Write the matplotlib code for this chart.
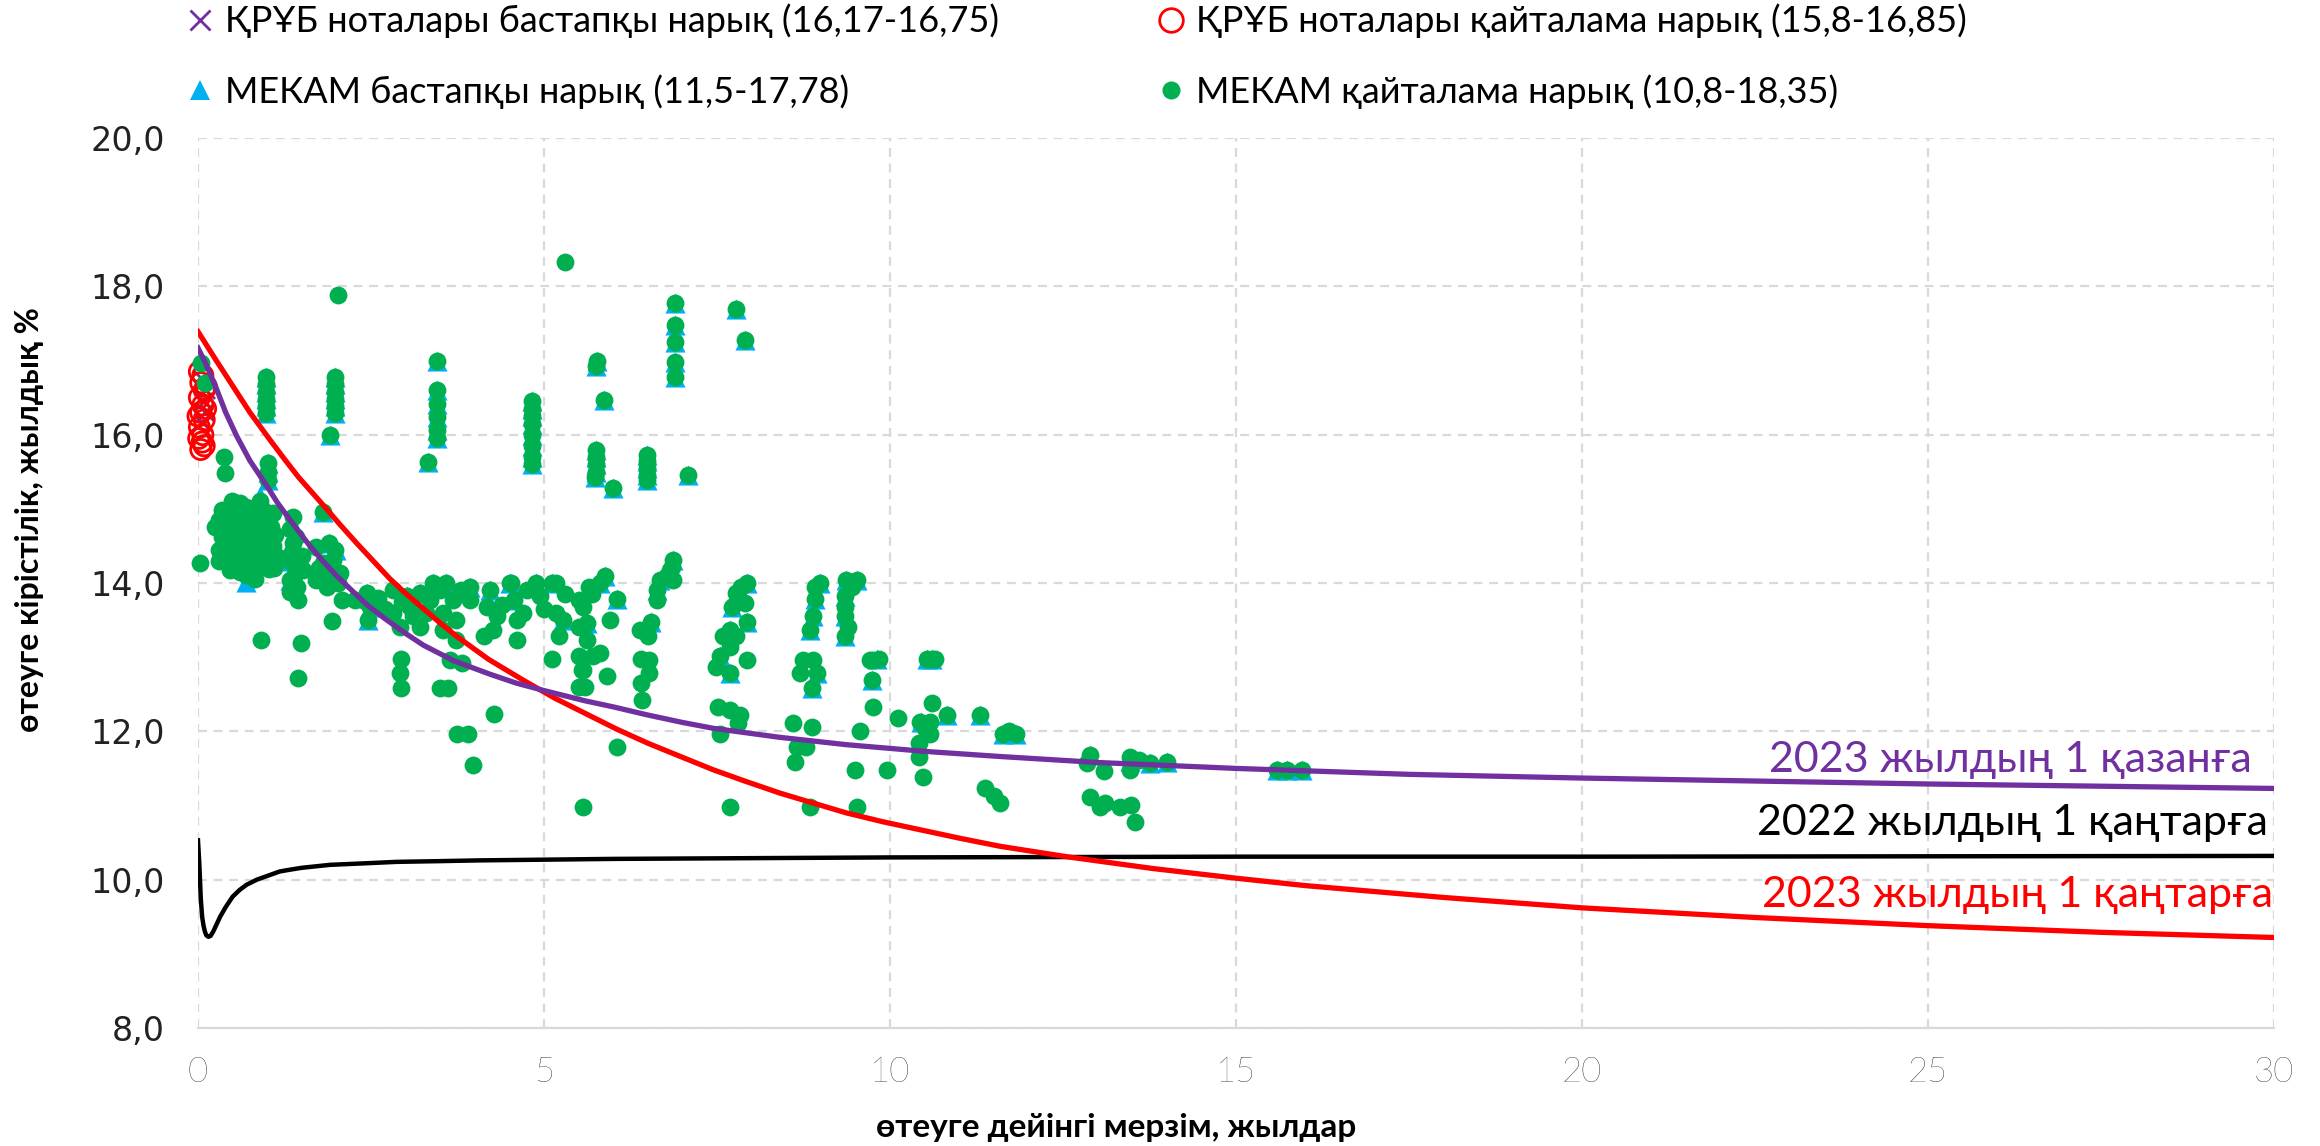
import numpy as np
import matplotlib
matplotlib.use("Agg")
import matplotlib.pyplot as plt
from matplotlib.lines import Line2D

plt.rcParams['font.family'] = ['Lato', 'Noto Sans', 'DejaVu Sans']

# --- кривые доходности ---
curve_oct23_x = [0, 0.1, 0.25, 0.4, 0.56, 0.75, 1.0, 1.15, 1.33, 1.6, 1.8, 2.0, 2.2, 2.45, 2.7, 3.0, 3.26, 3.7,
                 4.22, 4.6, 5.0, 5.6, 6.0, 6.5, 7.0, 7.45, 8.4, 9.37, 10.5, 11.6, 13, 14, 15, 17.5, 20, 22.5,
                 25, 27.5, 30]
curve_oct23_y = [17.17, 16.98, 16.66, 16.3, 15.98, 15.65, 15.30, 15.08, 14.85, 14.52, 14.30, 14.10, 13.92, 13.70,
                 13.52, 13.32, 13.16, 12.95, 12.77, 12.65, 12.55, 12.41, 12.33, 12.22, 12.12, 12.04, 11.92, 11.82,
                 11.73, 11.66, 11.58, 11.54, 11.50, 11.42, 11.37, 11.33, 11.29, 11.26, 11.23]

curve_jan23_x = [0, 0.25, 0.5, 0.75, 1.04, 1.25, 1.45, 1.63, 1.81, 2.05, 2.3, 2.55, 2.77, 3.0, 3.25, 3.5, 3.74,
                 4.2, 4.7, 5.15, 5.6, 6.05, 6.5, 7.0, 7.45, 7.9, 8.4, 8.9, 9.37, 9.9, 10.5, 11.0, 11.59, 12.55,
                 13.8, 15, 16, 17, 18, 20, 22.5, 25, 27.5, 30]
curve_jan23_y = [17.39, 17.02, 16.66, 16.30, 15.93, 15.67, 15.43, 15.24, 15.05, 14.79, 14.53, 14.28, 14.06, 13.86,
                 13.66, 13.46, 13.28, 12.97, 12.69, 12.45, 12.24, 12.03, 11.84, 11.65, 11.48, 11.33, 11.17, 11.03,
                 10.90, 10.78, 10.66, 10.56, 10.45, 10.31, 10.15, 10.02, 9.92, 9.84, 9.76, 9.62, 9.49, 9.38,
                 9.29, 9.22]

curve_jan22_x = [0, 0.02, 0.04, 0.06, 0.08, 0.1, 0.12, 0.15, 0.18, 0.22, 0.26, 0.32, 0.4, 0.5, 0.6, 0.7, 0.85,
                 1.0, 1.18, 1.3, 1.5, 1.91, 2.4, 2.87, 3.5, 4.07, 6, 10, 15, 20, 30]
curve_jan22_y = [10.53, 10.2, 9.75, 9.5, 9.38, 9.3, 9.25, 9.23, 9.24, 9.3, 9.38, 9.5, 9.63, 9.77, 9.86, 9.93, 10.0,
                 10.05, 10.11, 10.13, 10.16, 10.20, 10.22, 10.24, 10.25, 10.26, 10.28, 10.30, 10.31, 10.31, 10.32]

# --- ҚРҰБ ноталары ---
nsb_primary = [(0.06, 16.17), (0.1, 16.3), (0.08, 16.45), (0.12, 16.6), (0.06, 16.75)]
nsb_secondary = [(0.02, 16.85), (0.07, 16.8), (0.04, 16.7), (0.09, 16.6), (0.12, 16.65), (0.02, 16.5),
                 (0.07, 16.4), (0.11, 16.35), (0.04, 16.3), (0.0, 16.25), (0.09, 16.2), (0.02, 16.1),
                 (0.07, 16.0), (0.01, 15.95), (0.06, 15.9), (0.09, 15.85), (0.04, 15.8)]

# --- МЕКАМ ---
mekam_upper = [
    (0.99, 16.78), (0.99, 16.68), (0.99, 16.58), (0.99, 16.48), (0.99, 16.38), (0.99, 16.29),
    (1.01, 15.62), (1.01, 15.50), (1.01, 15.39),
    (1.98, 16.78), (1.98, 16.68), (1.98, 16.58), (1.98, 16.48), (1.98, 16.38), (1.98, 16.29),
    (1.91, 15.99), (1.81, 14.96),
    (3.45, 17.0), (3.45, 16.60), (3.45, 16.42), (3.45, 16.24), (3.45, 16.06), (3.45, 15.95), (3.33, 15.63),
    (4.82, 16.45), (4.82, 16.35), (4.82, 16.25), (4.82, 16.15), (4.82, 16.0), (4.82, 15.85),
    (4.82, 15.70), (4.82, 15.60),
    (5.77, 17.0), (5.75, 16.93), (5.87, 16.47), (5.75, 15.79), (5.75, 15.70), (5.75, 15.60),
    (5.75, 15.50), (5.73, 15.43), (6.0, 15.28),
    (6.49, 15.73), (6.49, 15.65), (6.49, 15.55), (6.49, 15.45), (6.49, 15.39), (7.08, 15.46),
    (6.89, 17.77), (6.89, 17.48), (6.89, 17.25), (6.89, 16.98), (6.89, 16.78), (7.77, 17.69), (7.91, 17.27),
]

mekam_primary_band = [
    (0.70, 14.02), (1.04, 14.45), (1.04, 14.8), (0.9, 15.17), (1.0, 14.6),
    (1.33, 14.04), (1.33, 14.29), (1.9, 14.54), (2.0, 14.45), (2.0, 14.13),
    (2.46, 13.50), (2.49, 13.68), (2.44, 13.86),
    (3.02, 13.82), (3.21, 13.86), (3.40, 14.0), (3.59, 14.0), (3.93, 13.95), (4.51, 14.0), (4.89, 14.0),
    (5.12, 14.0), (4.22, 13.91), (4.56, 13.77), (5.27, 13.50),
    (5.81, 14.0), (5.88, 14.09), (6.05, 13.79), (5.62, 13.46),
    (6.87, 14.31), (6.82, 14.18), (6.68, 14.04), (6.63, 13.91), (6.55, 13.48),
    (7.93, 14.0), (7.78, 13.86), (7.71, 13.68), (7.93, 13.48), (7.69, 13.37), (7.69, 12.78), (7.54, 13.01),
    (8.99, 14.0), (8.92, 13.79), (8.89, 13.55), (8.84, 13.37), (8.94, 12.78), (8.87, 12.58),
    (9.37, 14.04), (9.52, 14.04), (9.35, 13.82), (9.35, 13.55), (9.35, 13.28),
    (9.81, 12.98), (9.74, 12.69), (10.53, 12.98), (10.6, 12.98), (10.82, 12.22), (11.30, 12.22), (10.45, 12.13),
    (11.64, 11.97), (11.82, 11.97), (12.89, 11.68), (13.47, 11.6), (13.76, 11.57), (14.0, 11.59),
    (15.59, 11.48), (15.73, 11.48), (15.95, 11.48),
]

mekam_secondary_band = [
    (0.05, 16.97), (0.1, 16.7), (0.03, 14.27), (0.37, 15.70), (0.39, 15.48),
    (0.34, 14.98), (0.49, 15.10), (0.70, 15.03), (0.90, 15.10), (0.94, 14.98), (0.34, 14.62), (0.53, 14.76),
    (0.67, 14.80), (0.86, 14.85), (1.05, 14.76), (0.41, 14.40), (0.61, 14.49), (0.80, 14.54), (1.00, 14.58),
    (0.46, 14.18), (0.70, 14.11), (0.85, 14.20), (1.02, 14.19), (0.39, 14.31), (0.58, 14.27), (0.91, 14.67),
    (0.48, 14.89), (0.75, 14.36), (0.62, 14.95), (0.8, 14.7), (0.55, 14.6), (0.95, 14.4), (0.72, 14.25),
    (1.1, 14.2), (0.25, 14.75), (0.3, 14.45),
    (0.3, 14.85), (0.45, 15.0), (0.6, 15.08), (0.78, 14.95), (1.08, 14.95), (0.95, 14.85), (0.5, 14.5),
    (0.65, 14.4), (0.9, 14.5), (1.08, 14.5), (0.4, 14.7), (0.7, 14.65), (0.6, 14.15), (0.95, 14.25),
    (0.3, 14.3), (0.82, 14.05), (1.15, 14.35), (0.44, 14.6), (0.84, 15.02), (1.12, 14.65),
    (2.02, 17.88), (5.30, 18.33),
    (1.38, 14.89), (1.33, 14.73), (1.38, 14.54), (1.33, 14.29), (1.50, 14.36), (1.33, 14.04), (1.43, 13.95),
    (1.45, 13.77), (1.52, 14.18), (1.33, 13.88), (1.42, 14.62), (1.36, 14.42), (1.4, 14.12),
    (0.91, 13.23), (1.49, 13.19), (1.44, 12.72), (1.93, 13.49),
    (1.71, 14.49), (1.90, 14.54), (1.98, 14.45), (1.71, 14.04), (1.86, 13.95), (2.05, 14.13), (1.81, 14.27),
    (1.95, 14.31), (2.08, 13.77), (2.27, 13.77), (1.75, 14.2), (1.9, 14.1), (2.02, 14.0),
    (2.44, 13.86), (2.49, 13.68), (2.46, 13.50), (2.38, 13.77), (2.6, 13.8), (2.7, 13.65),
    (2.82, 13.91), (3.02, 13.82), (3.21, 13.86), (2.82, 13.59), (2.92, 13.41), (3.21, 13.41), (3.07, 13.68),
    (2.94, 12.98), (2.92, 12.78), (2.93, 12.58), (3.1, 13.55), (3.3, 13.6), (2.95, 13.75),
    (3.40, 14.0), (3.59, 14.0), (3.35, 13.77), (3.54, 13.59), (3.69, 13.77), (3.54, 13.37), (3.73, 13.23),
    (3.93, 13.95), (3.93, 13.77), (3.73, 13.50), (3.64, 12.96), (3.81, 12.92), (3.50, 12.58), (3.62, 12.58),
    (4.28, 12.24), (3.74, 11.97), (3.90, 11.97), (3.98, 11.55), (3.5, 13.9), (3.8, 13.9),
    (4.22, 13.91), (4.17, 13.68), (4.32, 13.55), (4.13, 13.28), (4.27, 13.37), (4.51, 14.0), (4.56, 13.77),
    (4.61, 13.50), (4.61, 13.23), (4.70, 13.59), (4.89, 14.0), (4.94, 13.82), (5.12, 14.0), (5.17, 13.59),
    (5.27, 13.50), (5.22, 13.28), (5.12, 12.98), (5.50, 13.77), (5.50, 13.41), (5.50, 13.01), (5.50, 12.60),
    (5.55, 12.83), (4.53, 14.0), (5.17, 14.0), (4.75, 13.9), (5.0, 13.65), (5.3, 13.85), (4.4, 13.7),
    (5.57, 13.68), (5.62, 13.46), (5.62, 13.23), (5.57, 12.83), (5.59, 12.60), (5.81, 14.0), (5.88, 14.09),
    (6.05, 13.79), (5.96, 13.50), (5.81, 13.05), (5.91, 12.74), (5.71, 13.01), (6.05, 11.79), (5.57, 10.98),
    (5.70, 13.85), (5.65, 13.95),
    (6.39, 13.37), (6.55, 13.48), (6.50, 13.28), (6.40, 12.98), (6.52, 12.96), (6.52, 12.78), (6.40, 12.65),
    (6.42, 12.42), (6.63, 13.91), (6.68, 14.04), (6.82, 14.18), (6.87, 14.31), (6.87, 14.04), (6.63, 13.77),
    (6.85, 14.22), (6.78, 14.1),
    (7.93, 14.0), (7.78, 13.86), (7.71, 13.68), (7.93, 13.48), (7.69, 13.37), (7.59, 13.28), (7.78, 13.28),
    (7.69, 13.14), (7.54, 13.01), (7.49, 12.87), (7.69, 12.78), (7.93, 12.96), (7.52, 12.33), (7.69, 12.29),
    (7.83, 12.22), (7.81, 12.11), (7.54, 11.97), (7.69, 10.98), (7.85, 13.95), (7.9, 13.73),
    (8.99, 14.0), (8.92, 13.79), (8.89, 13.55), (8.84, 13.37), (8.75, 12.96), (8.89, 12.96), (8.70, 12.78),
    (8.94, 12.78), (8.87, 12.58), (8.60, 12.11), (8.87, 12.06), (8.65, 11.79), (8.79, 11.79), (8.63, 11.58),
    (8.84, 10.98), (8.92, 13.95),
    (9.37, 14.04), (9.52, 14.04), (9.35, 13.82), (9.35, 13.55), (9.35, 13.28), (9.45, 13.95), (9.35, 13.68),
    (9.40, 13.40),
    (9.71, 12.96), (9.76, 12.96), (9.84, 12.98), (9.74, 12.69), (9.76, 12.33), (9.57, 12.0), (9.50, 11.48),
    (9.95, 11.48), (10.12, 12.18), (9.52, 10.98),
    (10.53, 12.98), (10.60, 12.98), (10.65, 12.98), (10.60, 12.38), (10.44, 12.13), (10.58, 12.13),
    (10.58, 11.97), (10.42, 11.84), (10.42, 11.66), (10.47, 11.39), (10.82, 12.22), (10.5, 12.05),
    (11.30, 12.22), (11.37, 11.23), (11.50, 11.13), (11.59, 11.03), (11.64, 11.97), (11.82, 11.97), (11.72, 12.0),
    (12.89, 11.68), (12.85, 11.57), (13.09, 11.46), (12.89, 11.12), (13.03, 10.98), (13.10, 11.03),
    (13.47, 11.66), (13.47, 11.48), (13.76, 11.57), (14.0, 11.59), (13.32, 10.98), (13.48, 11.01),
    (13.54, 10.78), (13.6, 11.62),
    (15.59, 11.48), (15.73, 11.48), (15.95, 11.48),
]

legend_labels = [
    "ҚРҰБ ноталары бастапқы нарық (16,17-16,75)",
    "МЕКАМ бастапқы нарық (11,5-17,78)",
    "ҚРҰБ ноталары қайталама нарық (15,8-16,85)",
    "МЕКАМ қайталама нарық (10,8-18,35)",
]
curve_labels = ["2023 жылдың 1 қазанға", "2022 жылдың 1 қаңтарға", "2023 жылдың 1 қаңтарға"]

PURPLE = "#7030A0"
RED = "#FF0000"
GREEN = "#00B050"
BLUE = "#00B0F0"


def xy(points):
    arr = np.array(points)
    return arr[:, 0], arr[:, 1]


fig = plt.figure(figsize=(23.2, 11.46), dpi=100)
ax = fig.add_axes([0.08534, 0.10297, 0.89483, 0.77661])

px, py = xy(nsb_primary)
ax.scatter(px, py, marker='x', s=150, color=PURPLE, linewidths=2, zorder=2, clip_on=False)
rx, ry = xy(nsb_secondary)
ax.scatter(rx, ry, marker='o', s=210, facecolors='none', edgecolors=RED, linewidths=2, zorder=3,
           clip_on=False)
tx, ty = xy(mekam_upper + mekam_primary_band)
ax.scatter(tx, ty, marker='^', s=210, color=BLUE, linewidths=0, zorder=4, clip_on=False)
gx, gy = xy(mekam_upper + mekam_secondary_band)
ax.scatter(gx, gy, marker='o', s=165, color=GREEN, linewidths=0, zorder=5, clip_on=False)

ax.plot(curve_jan22_x, curve_jan22_y, color='black', lw=3.2, zorder=6)
ax.plot(curve_jan23_x, curve_jan23_y, color=RED, lw=3.8, zorder=7)
ax.plot(curve_oct23_x, curve_oct23_y, color=PURPLE, lw=3.8, zorder=8)

ax.text(29.68, 11.61, curve_labels[0], color=PURPLE, fontsize=31, ha='right', va='center')
ax.text(29.91, 10.76, curve_labels[1], color='black', fontsize=31, ha='right', va='center')
ax.text(29.99, 9.79, curve_labels[2], color=RED, fontsize=31, ha='right', va='center')

ax.set_xlim(0, 30)
ax.set_ylim(8, 20)
ax.set_xticks(range(0, 31, 5))
ax.set_yticks(np.arange(8, 20.1, 2))
ax.set_yticklabels([f"{v:.1f}".replace('.', ',') for v in np.arange(8, 20.1, 2)],
                   family='DejaVu Sans', fontsize=24, color='#222222')
ax.tick_params(axis='x', labelsize=25, length=0, pad=20)
ax.tick_params(axis='y', length=0, pad=24)
for lab in ax.get_xticklabels():
    lab.set_fontweight('light')

ax.grid(True, color='#D9D9D9', linestyle=(0, (4, 3)), linewidth=1.6)
for side in ['top', 'right', 'left']:
    ax.spines[side].set_visible(False)
ax.spines['bottom'].set_color('#D9D9D9')
ax.spines['bottom'].set_linewidth(1.6)

fig.text(1116 / 2320, 1 - 1127 / 1146, "өтеуге дейінгі мерзім, жылдар", fontsize=24,
         fontweight='bold', ha='center', va='center')
fig.text(30 / 2320, 1 - 520 / 1146, "өтеуге кірістілік, жылдық %", fontsize=23,
         fontweight='bold', ha='center', va='center', rotation=90)

handles = [
    Line2D([], [], marker='x', ls='', color=PURPLE, markersize=15, markeredgewidth=2),
    Line2D([], [], marker='^', ls='', color=BLUE, markersize=15, markeredgewidth=0),
    Line2D([], [], marker='o', ls='', markerfacecolor='none', markeredgecolor=RED, markersize=17, markeredgewidth=2),
    Line2D([], [], marker='o', ls='', color=GREEN, markersize=13, markeredgewidth=0),
]
fig.legend(handles, legend_labels, ncol=2, loc='upper left', bbox_to_anchor=(0.0784, 1.0),
           frameon=False, fontsize=26, handlelength=0.8, handletextpad=0.3, columnspacing=4.35,
           labelspacing=1.0, borderaxespad=0, borderpad=0.1)

fig.savefig("out.png", dpi=100)
